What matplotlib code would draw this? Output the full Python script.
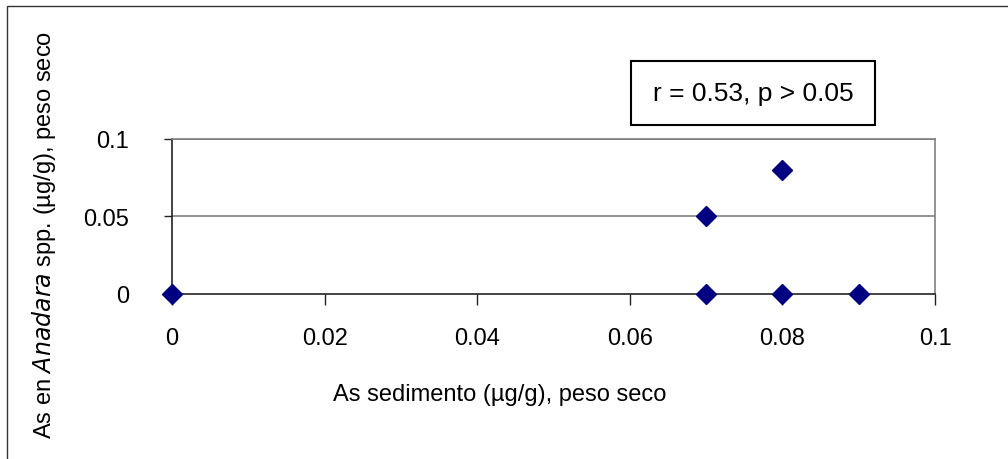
import matplotlib.pyplot as plt
from matplotlib.patches import Rectangle

plt.rcParams['font.family'] = ['Liberation Sans', 'DejaVu Sans']

# As in sediment vs As in Anadara spp. (ug/g, dry weight)
as_sedimento = [0, 0.07, 0.07, 0.08, 0.08, 0.09]
as_anadara = [0, 0.05, 0, 0.08, 0, 0]
x_ticks = [0, 0.02, 0.04, 0.06, 0.08, 0.1]
y_ticks = [0, 0.05, 0.1]

W, H = 1008, 460
fig = plt.figure(figsize=(W / 100, H / 100), dpi=100)
ax = fig.add_axes([172 / W, 1 - 295 / H, 763 / W, 155.5 / H])

# outer chart frame
fig.patches.append(Rectangle((7 / W, -0.1), 1.2, 1 - 7 / H + 0.1,
                             transform=fig.transFigure, fill=False,
                             edgecolor='#333333', linewidth=1.0))

ax.set_xlim(0, 0.1)
ax.set_ylim(0, 0.1)
ax.set_xticks(x_ticks)
ax.set_yticks(y_ticks)
ax.set_xticklabels(['0', '0.02', '0.04', '0.06', '0.08', '0.1'])
ax.set_yticklabels(['0', '0.05', '0.1'])

for y in y_ticks[1:]:
    ax.axhline(y, color='#808080', linewidth=1.2, zorder=1)

ax.spines['left'].set_color('#222222')
ax.spines['bottom'].set_color('#222222')
ax.spines['right'].set_color('#808080')
ax.spines['top'].set_color('#808080')
for s in ax.spines.values():
    s.set_linewidth(1.2)

ax.tick_params(axis='x', direction='out', length=8, width=1, pad=16,
               labelsize=17, color='#222222')
ax.tick_params(axis='y', direction='out', length=6, width=1, pad=25,
               labelsize=17, color='#222222')

ax.plot(as_sedimento, as_anadara, linestyle='none', marker='D', ms=10,
        color='#000080', clip_on=False, zorder=5)

fig.text(500 / W, 1 - 395 / H, 'As sedimento (µg/g), peso seco',
         ha='center', va='center', fontsize=17)
fig.text(44 / W, 1 - 235 / H,
         r'As en $\mathit{Anadara}$ spp. (µg/g), peso seco',
         ha='center', va='center', rotation=90, fontsize=17)

# correlation box
fig.patches.append(Rectangle((631 / W, 1 - 126 / H), 244 / W, 64 / H,
                             transform=fig.transFigure, facecolor='white',
                             edgecolor='black', linewidth=1.5))
fig.text(753 / W, 1 - 94 / H, 'r = 0.53, p > 0.05',
         ha='center', va='center', fontsize=19)

fig.savefig('out.png', dpi=100)
